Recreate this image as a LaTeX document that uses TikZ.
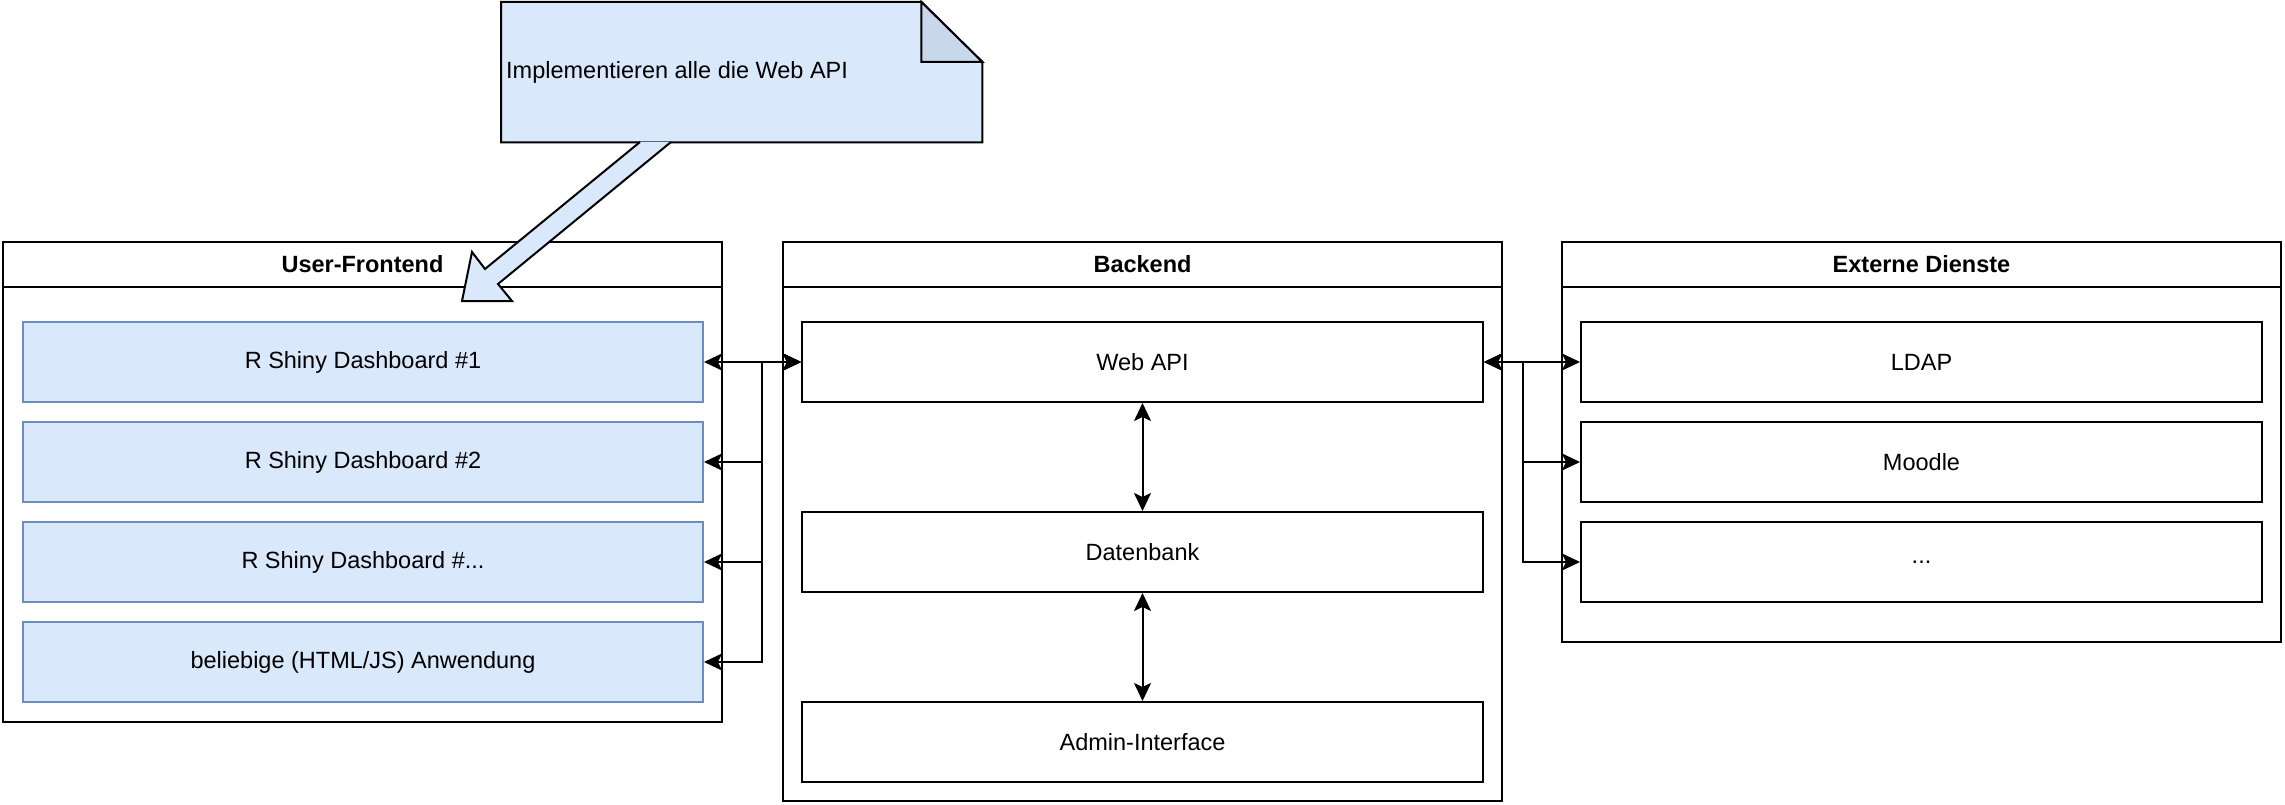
\documentclass[tikz,border=0pt]{standalone}
\usepackage{fontspec}
\setmainfont{Liberation Sans}
\usetikzlibrary{arrows.meta,calc}
\definecolor{bfill}{HTML}{DAE8FC}
\definecolor{bline}{HTML}{6C8EBF}
\definecolor{foldc}{HTML}{C9D7EC}
\begin{document}
\begin{tikzpicture}[x=1pt,y=-1pt,
  font=\fontsize{23.5}{28}\selectfont,
  cont/.style={draw, line width=2pt, anchor=north west, inner sep=0pt, minimum width=719pt},
  title/.style={font=\fontsize{23.5}{28}\selectfont\bfseries, inner sep=0pt},
  bluebox/.style={draw=bline, fill=bfill, line width=2pt, anchor=north west, inner sep=0pt, minimum width=680pt, minimum height=80pt},
  whitebox/.style={draw, line width=2pt, anchor=north west, inner sep=0pt, minimum width=681pt, minimum height=80pt},
  conn/.style={line width=2pt, {Stealth[length=18pt,width=17pt,inset=4pt]}-{Stealth[length=18pt,width=17pt,inset=4pt]}},
  thick2/.style={line width=2pt}]
\useasboundingbox (0,0) rectangle (2285,805);

% containers
\node[cont, minimum height=480pt] (fe) at (2,241) {};
\draw[thick2] ([yshift=-46pt]fe.north west) -- ([yshift=-46pt]fe.north east);
\node[title] (fet) at ([yshift=-23pt]fe.north) {User-Frontend};

\node[cont, minimum height=559pt] (be) at (782,241) {};
\draw[thick2] ([yshift=-46pt]be.north west) -- ([yshift=-46pt]be.north east);
\node[title] (bet) at ([yshift=-23pt]be.north) {Backend};

\node[cont, minimum height=400pt] (ex) at (1561,241) {};
\draw[thick2] ([yshift=-46pt]ex.north west) -- ([yshift=-46pt]ex.north east);
\node[title] (ext) at ([yshift=-23pt]ex.north) {Externe Dienste};

% frontend boxes
\node[bluebox] (f1) at (22,321) {R Shiny Dashboard \#1};
\node[bluebox] (f2) at (22,421) {R Shiny Dashboard \#2};
\node[bluebox] (f3) at (22,521) {R Shiny Dashboard \#...};
\node[bluebox] (f4) at (22,621) {beliebige (HTML/JS) Anwendung};

% backend boxes
\node[whitebox] (web) at (801,321) {Web API};
\node[whitebox] (db) at (801,511) {Datenbank};
\node[whitebox] (adm) at (801,701) {Admin-Interface};

% external boxes
\node[whitebox] (e1) at (1580,321) {LDAP};
\node[whitebox] (e2) at (1580,421) {Moodle};
\node[whitebox] (e3) at (1580,521) {...};

% connectors
\foreach \t in {f1,f2,f3,f4}
  \draw[conn] (web.west) -- ++(-39,0) |- (\t.east);
\foreach \t in {e1,e2,e3}
  \draw[conn] (web.east) -- ++(39,0) |- (\t.west);
\draw[conn] (web.south) -- (db.north);
\draw[conn] (db.south) -- (adm.north);

% note
\node[anchor=north west, minimum width=481pt, minimum height=140pt, inner sep=0pt] (note) at (501,2) {};
\draw[thick2, fill=bfill] (note.north west) -- ([xshift=-61pt]note.north east) -- ([yshift=-60pt]note.north east) -- (note.south east) -- (note.south west) -- cycle;
\draw[thick2, fill=foldc] ([xshift=-61pt]note.north east) -- ([xshift=-61pt,yshift=-60pt]note.north east) -- ([yshift=-60pt]note.north east) -- cycle;
\node[anchor=west, inner sep=0pt] (notet) at ([xshift=5pt]note.west) {Implementieren alle die Web API};

% block arrow from note to frontend
\coordinate (a1) at (640,142);
\coordinate (a2) at (671,142);
\draw[thick2, fill=bfill, line join=miter] (a1) -- (485,269) -- (472,252) -- (462,301) -- (512,301) -- (498,284) -- (a2);
\end{tikzpicture}
\end{document}
